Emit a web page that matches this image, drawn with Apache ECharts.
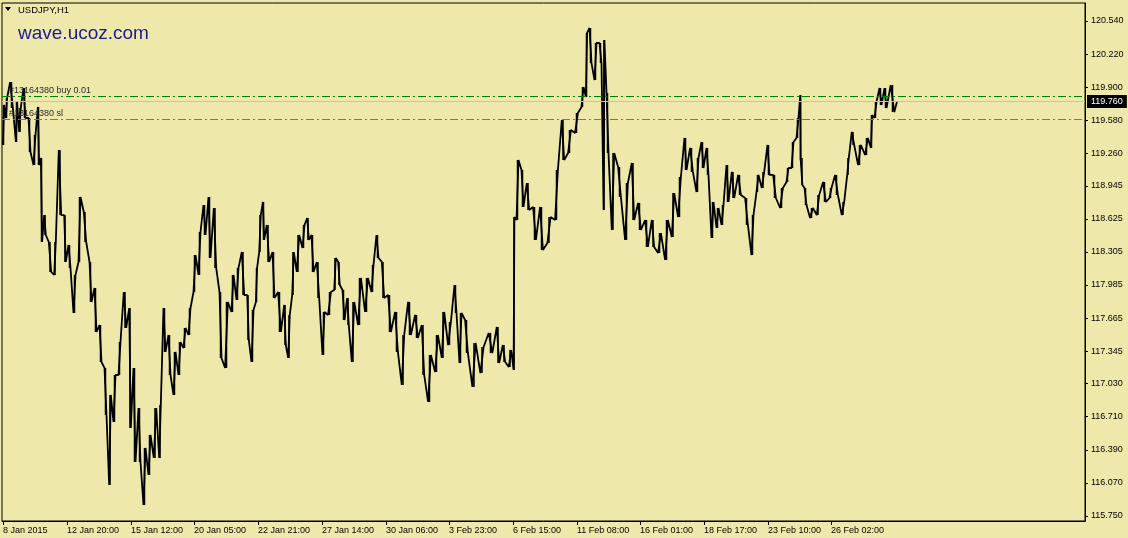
<!DOCTYPE html>
<html>
<head>
<meta charset="utf-8">
<script src="https://cdn.jsdelivr.net/npm/echarts@6/dist/echarts.min.js"></script>
<style>
html,body{margin:0;padding:0;background:#EEE8AA;}
#c{width:1128px;height:538px;}
</style>
</head>
<body>
<div id="c"></div>
<script>
// H1 bar index (hours of trading from the first bar) where each sampled stretch starts
const barStart = [0,3,6,13,16,20,25,30,35,38,41,45,51,55,61,65,70,75,80,86,91,96,101,106,110,115,120,126,130,135,140,145,150,156,160,165,170,175,180,185,190,195,200,205,210,216,221,228,233,238,244,248,253,256,260,263,269,274,281,285,289,293,299,304,308,313,319,324,331,335,339,344,348,354,361,368,373,378,384,391,398,404,411,418,424,431,438,444,451,456,461,468,476,484,493,499,505,511,513,518,523,529,536,543,551,558,564,571,578,583,586,591,596,601,603,608,614,621,628,634,641,648,654,661,668,674,681,686,693,698,703,708,713,718,723,728,734,741,748,753,758,764,769,776,783,788,793,798,799,801,806,813,819,826,831,838,844,848,854,861,868,871,876,881,886];
const lastBar = 895;
const highs = [119.727,119.795,119.949,119.756,119.698,119.891,119.601,119.437,119.708,119.214,118.662,118.401,118.401,119.291,118.662,118.372,118.082,118.837,118.691,118.208,117.956,117.598,117.182,116.921,117.114,117.433,117.917,117.762,117.182,116.795,116.408,116.534,116.795,116.824,117.762,117.501,117.337,117.433,117.569,117.762,118.275,118.498,118.759,118.837,118.730,117.917,117.821,118.082,118.150,118.304,117.888,117.743,118.150,118.662,118.788,118.566,118.304,117.917,117.792,117.695,118.304,118.469,118.566,118.633,118.469,118.208,117.724,117.917,118.246,118.208,117.937,117.859,117.821,118.053,118.053,118.179,118.469,118.208,117.888,117.724,117.501,117.821,117.695,117.598,117.308,117.501,117.724,117.627,117.985,117.714,117.646,117.424,117.385,117.521,117.579,117.404,117.356,118.643,119.195,119.098,118.972,118.740,118.740,118.643,119.098,119.582,119.485,119.649,119.901,120.424,120.472,120.327,120.327,120.356,119.843,119.262,119.127,118.972,119.166,118.779,118.614,118.614,118.488,118.614,118.875,119.030,119.408,119.311,119.214,119.369,119.311,118.788,118.730,118.759,119.146,119.079,119.050,118.827,118.662,119.050,119.079,119.340,119.050,118.924,119.117,119.369,119.601,119.824,119.214,118.924,118.730,118.856,118.982,118.924,119.050,118.788,119.214,119.466,119.340,119.408,119.630,119.756,119.891,119.891,119.920];
const lows = [119.340,119.601,119.698,119.369,119.466,119.601,119.272,119.146,119.146,118.401,118.469,118.111,118.082,118.662,118.208,118.150,117.714,118.208,118.401,117.821,117.530,117.240,116.727,116.050,116.659,117.114,117.569,116.601,116.272,116.272,115.856,116.146,116.311,116.311,117.337,117.114,116.921,117.114,117.375,117.501,117.917,118.082,118.469,118.246,118.150,117.279,117.182,117.724,117.840,117.888,117.453,117.240,117.821,118.304,118.421,118.208,117.859,117.530,117.404,117.279,117.888,118.111,118.343,118.421,118.111,117.859,117.308,117.695,117.937,117.985,117.646,117.598,117.240,117.598,117.724,117.917,118.246,117.859,117.530,117.337,117.017,117.501,117.472,117.114,116.853,117.143,117.279,117.404,117.714,117.230,117.327,116.998,117.133,117.327,117.230,117.240,117.192,117.163,118.614,118.740,118.711,118.421,118.324,118.391,118.614,119.195,119.262,119.456,119.708,119.804,120.133,119.969,120.133,118.711,119.262,118.517,118.837,118.421,118.614,118.517,118.353,118.353,118.295,118.227,118.450,118.643,119.098,119.079,118.885,119.117,119.050,118.440,118.537,118.566,118.788,118.827,118.856,118.566,118.275,118.885,118.924,119.050,118.827,118.730,118.982,119.117,119.408,119.195,118.953,118.759,118.633,118.662,118.788,118.827,118.856,118.662,119.050,119.340,119.146,119.243,119.311,119.601,119.727,119.698,119.659];
const lastClose = 119.760;
const buyPrice = 119.815;
const slPrice = 119.590;
const yTicks = [120.540,120.220,119.900,119.580,119.260,118.945,118.625,118.305,117.985,117.665,117.345,117.030,116.710,116.390,116.070,115.750];
const xTickBars = [1,65,129,192,256,320,384,447,511,575,638,702,766,829];
const xTickLabels = ['8 Jan 2015','12 Jan 20:00','15 Jan 12:00','20 Jan 05:00','22 Jan 21:00','27 Jan 14:00','30 Jan 06:00','3 Feb 23:00','6 Feb 15:00','11 Feb 08:00','16 Feb 01:00','18 Feb 17:00','23 Feb 10:00','26 Feb 02:00'];

const n = barStart.length;
const pts = [];
const ranges = [];
for (let i = 0; i < n; i++) {
  const s = barStart[i];
  const e = i + 1 < n ? barStart[i + 1] : lastBar;
  const mid = (highs[i] + lows[i]) / 2;
  const nextMid = i + 1 < n ? (highs[i + 1] + lows[i + 1]) / 2 : lastClose;
  const a = s + (e - s) * 0.3, b = s + (e - s) * 0.7;
  if (nextMid > mid) { pts.push([a, lows[i]], [b, highs[i]]); }
  else { pts.push([a, highs[i]], [b, lows[i]]); }
  ranges.push([(s + e) / 2, highs[i], lows[i]]);
}
pts.push([lastBar, lastClose]);

const FONT = 'Liberation Sans';
const chart = echarts.init(document.getElementById('c'), null, {renderer: 'canvas'});
chart.setOption({
  backgroundColor: '#EEE8AA',
  animation: false,
  grid: {left: 2, right: 43, top: 3, bottom: 17, show: true, borderColor: '#000', borderWidth: 1, backgroundColor: 'transparent'},
  xAxis: {
    type: 'value', min: 0, max: 1083,
    axisLine: {show: true, onZero: false, lineStyle: {color: '#000', width: 1}},
    axisTick: {show: true, customValues: xTickBars, length: 4, lineStyle: {color: '#000'}},
    axisLabel: {show: true, customValues: xTickBars, align: 'left', margin: 5, color: '#000', fontSize: 9, fontFamily: FONT,
      formatter: function (v) { const k = xTickBars.indexOf(v); return k >= 0 ? xTickLabels[k] : ''; }},
    splitLine: {show: false}
  },
  yAxis: {
    type: 'value', position: 'right', min: 115.701, max: 120.714, scale: true,
    axisLine: {show: true, onZero: false, lineStyle: {color: '#000', width: 1}},
    axisTick: {show: true, customValues: yTicks, length: 3, lineStyle: {color: '#000'}},
    axisLabel: {show: true, customValues: yTicks, margin: 6, color: '#000', fontSize: 9, fontFamily: FONT,
      formatter: function (v) { return v.toFixed(3); }},
    splitLine: {show: false}
  },
  graphic: [
    {type: 'polygon', shape: {points: [[5, 7], [11, 7], [8, 11]]}, style: {fill: '#000'}},
    {type: 'text', x: 18, y: 10, style: {text: 'USDJPY,H1', fill: '#000', font: '9.5px "Liberation Sans"', verticalAlign: 'middle'}},
    {type: 'text', x: 18, y: 34, style: {text: 'wave.ucoz.com', fill: '#1a1a9a', font: '19px "Liberation Sans"', verticalAlign: 'middle',
      textShadowColor: 'rgba(70,70,150,0.45)', textShadowOffsetX: 1, textShadowOffsetY: 1, textShadowBlur: 0}}
  ],
  series: [{
    type: 'custom', silent: true, data: ranges,
    renderItem: function (params, api) {
      const p1 = api.coord([api.value(0), api.value(1)]);
      const p2 = api.coord([api.value(0), api.value(2)]);
      return {type: 'line', shape: {x1: p1[0], y1: p1[1], x2: p2[0], y2: p2[1]}, style: {stroke: '#000', lineWidth: 1.5}};
    }
  }, {
    type: 'line', data: pts, symbol: 'none', silent: true,
    lineStyle: {color: '#000', width: 1.8},
    markLine: {
      silent: true, symbol: ['none', 'none'], animation: false,
      data: [
        {yAxis: lastClose, lineStyle: {color: '#c0c0c0', type: 'solid', width: 1},
          label: {show: true, position: 'end', formatter: '119.760', color: '#fff', backgroundColor: '#000', padding: [2, 4, 2, 4], distance: 2, fontSize: 9, fontFamily: FONT}},
        {yAxis: buyPrice, lineStyle: {color: '#008000', type: [8, 3, 2, 3], width: 1},
          label: {show: true, position: 'insideStartTop', formatter: '#13164380 buy 0.01', color: '#2b2b2b', distance: [7, 1], fontSize: 9, fontFamily: FONT}},
        {yAxis: slPrice, lineStyle: {color: '#ff4500', type: [8, 3, 2, 3], width: 1},
          label: {show: true, position: 'insideStartTop', formatter: '#13164380 sl', color: '#2b2b2b', distance: [7, 1], fontSize: 9, fontFamily: FONT}}
      ]
    }
  }]
});
</script>
</body>
</html>
